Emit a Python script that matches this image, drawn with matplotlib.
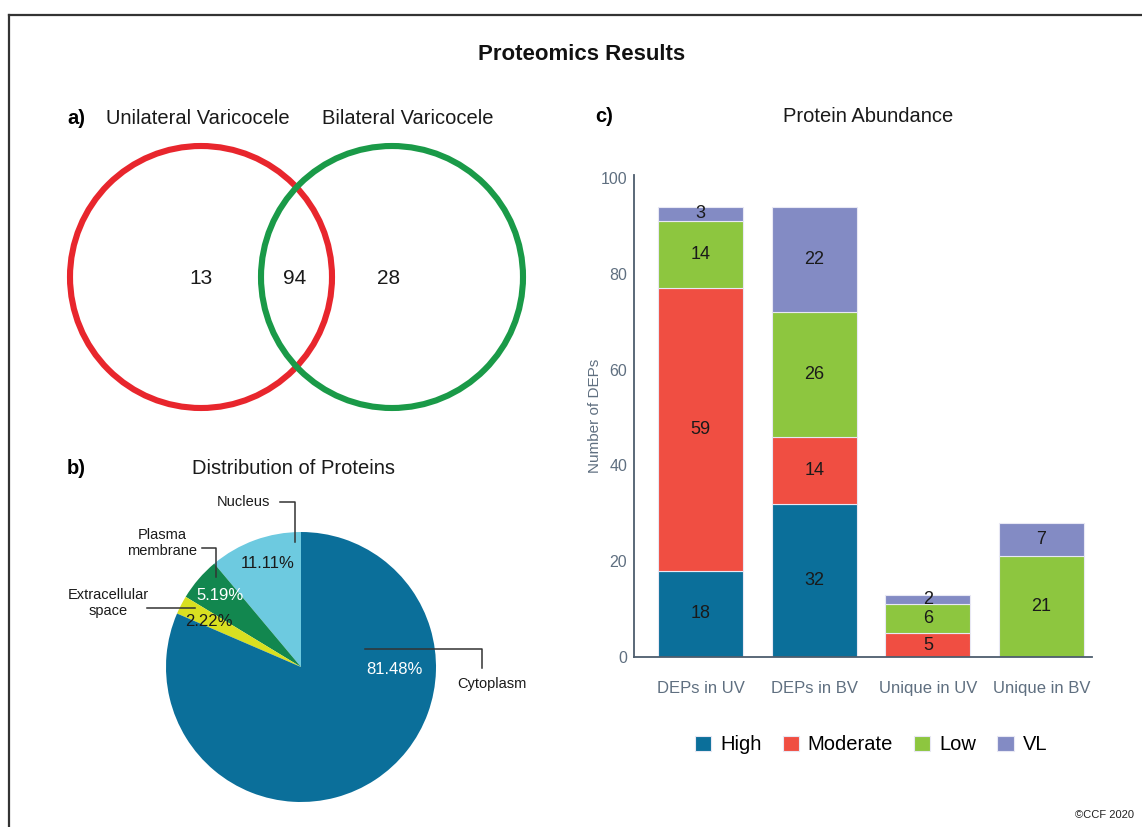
import matplotlib
matplotlib.use('Agg')
import matplotlib.pyplot as plt
from matplotlib.patches import Circle

plt.rcParams['font.family'] = ['Liberation Sans', 'DejaVu Sans']

# ---- data ----
venn_sets = ['Unilateral Varicocele', 'Bilateral Varicocele']
venn_counts = [13, 94, 28]          # only UV, both, only BV

pie_labels = ['Nucleus', 'Plasma\nmembrane', 'Extracellular\nspace', 'Cytoplasm']
pie_values = [11.11, 5.19, 2.22, 81.48]
pie_colors = ['#6dcae0', '#12874f', '#d9e021', '#0b6f9a']

groups = ['DEPs in UV', 'DEPs in BV', 'Unique in UV', 'Unique in BV']
levels = ['High', 'Moderate', 'Low', 'VL']
high = [18, 32, 0, 0]
moderate = [59, 14, 5, 0]
low = [14, 26, 6, 21]
vl = [3, 22, 2, 7]
level_colors = ['#0b6f9a', '#f04e42', '#8dc63f', '#838bc4']

W, H = 1142, 827
fig = plt.figure(figsize=(W / 100, H / 100), dpi=100)

# ---- c) stacked bars ----
ax = fig.add_axes([634 / W, (H - 657) / H, 458 / W, 482 / H])
series = [high, moderate, low, vl]
bottom = [0] * len(groups)
x = list(range(len(groups)))
for vals, name, col in zip(series, levels, level_colors):
    bars = ax.bar(x, vals, 0.75, bottom=bottom, color=col, label=name,
                  edgecolor='#e8e8f4', linewidth=0.8)
    for xi, v, b in zip(x, vals, bottom):
        if v > 0:
            ax.text(xi, b + v / 2, str(v), ha='center', va='center',
                    fontsize=13, color='#1a1a1a')
    bottom = [b + v for b, v in zip(bottom, vals)]

ax.set_xlim(-0.585, 3.444)
ax.set_ylim(0, 100.6)
ax.set_yticks([0, 20, 40, 60, 80, 100])
ax.set_xticks(x)
ax.set_xticklabels(groups)
ax.tick_params(axis='both', length=0, colors='#5f6f80', labelsize=11.5)
ax.tick_params(axis='x', pad=17, labelsize=12)
ax.tick_params(axis='y', pad=5)
for s in ['top', 'right']:
    ax.spines[s].set_visible(False)
for s in ['left', 'bottom']:
    ax.spines[s].set_color('#4d5d6d')
    ax.spines[s].set_linewidth(1.3)
ax.set_ylabel('Number of DEPs', fontsize=11, color='#5f6f80')
ax.yaxis.set_label_coords(-0.07, 0.5)

fig.legend(*ax.get_legend_handles_labels(), loc='center',
           bbox_to_anchor=(871 / W, (H - 745) / H), ncol=4, frameon=False,
           fontsize=14.5, handlelength=0.8, handleheight=0.8,
           handletextpad=0.45, columnspacing=1.05)

# ---- b) pie ----
r = 135
axp = fig.add_axes([(301 - r) / W, (H - 667 - r) / H, 2 * r / W, 2 * r / H])
axp.pie(pie_values, colors=pie_colors, startangle=90, counterclock=True,
        radius=1, wedgeprops=dict(linewidth=0))
axp.set_xlim(-1, 1)
axp.set_ylim(-1, 1)

# ---- overlay in pixel coordinates ----
ov = fig.add_axes([0, 0, 1, 1])
ov.set_xlim(0, W)
ov.set_ylim(H, 0)
ov.axis('off')

# frame
ov.plot([9, W], [15, 15], color='#333333', lw=1.6)
ov.plot([9, 9], [15, H], color='#333333', lw=1.6)

ov.text(582, 55, 'Proteomics Results', ha='center', va='center',
        fontsize=16, fontweight='bold', color='#111111')

# a) venn
ov.text(67, 119, 'a)', ha='left', va='center', fontsize=14.5, fontweight='bold')
ov.text(198, 119, venn_sets[0], ha='center', va='center', fontsize=14.5, color='#1a1a1a')
ov.text(408, 119, venn_sets[1], ha='center', va='center', fontsize=14.5, color='#1a1a1a')
ov.add_patch(Circle((201, 277), 131, fill=False, ec='#e8262d', lw=4.4))
ov.add_patch(Circle((392, 277), 131, fill=False, ec='#1a9a48', lw=4.4))
for xp, n in zip([201, 295, 389], venn_counts):
    ov.text(xp, 278, str(n), ha='center', va='center', fontsize=15, color='#1a1a1a')

# b) labels
ov.text(67, 468, 'b)', ha='left', va='center', fontsize=14.5, fontweight='bold')
ov.text(294, 469, 'Distribution of Proteins', ha='center', va='center',
        fontsize=14.5, color='#1a1a1a')
pct_pos = [(268, 563), (220, 595), (209, 622), (394, 669)]
pct_col = ['#1a1a1a', 'white', '#1a1a1a', 'white']
for (px, py), v, c in zip(pct_pos, pie_values, pct_col):
    ov.text(px, py, '%.2f%%' % v, ha='center', va='center', fontsize=12, color=c)

lab_pos = [(243, 502), (162, 543), (108, 603), (492, 684)]
for (px, py), lab in zip(lab_pos, pie_labels):
    ov.text(px, py, lab, ha='center', va='center', fontsize=10.5,
            color='#1a1a1a', linespacing=1.25)
lc = '#333333'
ov.plot([280, 295, 295], [502, 502, 542], color=lc, lw=1.1)
ov.plot([202, 216, 216], [548, 548, 577], color=lc, lw=1.1)
ov.plot([147, 195], [608, 608], color=lc, lw=1.1)
ov.plot([365, 482, 482], [649, 649, 668], color=lc, lw=1.1)

# c) titles
ov.text(595, 117, 'c)', ha='left', va='center', fontsize=14.5, fontweight='bold')
ov.text(868, 117, 'Protein Abundance', ha='center', va='center',
        fontsize=14.5, color='#1a1a1a')

ov.text(1134, 815, '\u00a9CCF 2020', ha='right', va='center', fontsize=8, color='#222222')

fig.savefig('out.png', dpi=100)
